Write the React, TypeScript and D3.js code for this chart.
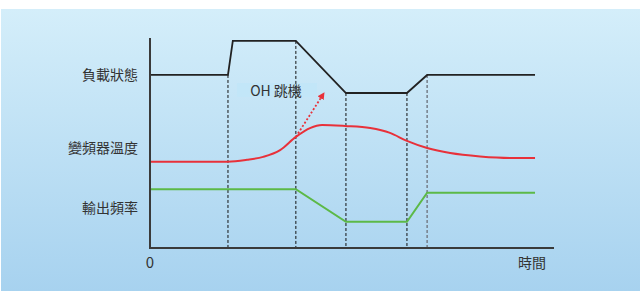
import React from "react";
import * as d3 from "d3";

const W = 640;
const H = 291;

// time domain 0..100, value domain 0..100
const blackT = [0, 19.3, 20.5, 36.1, 48.5, 63.6, 68.6, 95.3];
const blackV = [82.4, 82.4, 98.6, 98.6, 73.8, 73.8, 82.4, 82.4];

const redT = [0, 19.3, 24, 28, 32.2, 36.1, 39.6, 42.6, 48.3, 54.5, 59.4, 63.6, 68.6, 74.3, 81.7, 89.1, 95.3];
const redV = [41.1, 41.1, 42.0, 43.4, 46.6, 52.9, 57.1, 58.6, 58.1, 57.1, 54.8, 51.0, 47.6, 45.2, 43.6, 42.9, 42.9];

const greenT = [0, 36.1, 48.5, 63.6, 68.6, 95.3];
const greenV = [28, 28, 12.5, 12.5, 26.3, 26.3];

const eventT = [19.3, 36.1, 48.5, 63.6, 68.6];
const eventTop = [82.4, 98.6, 73.8, 73.8, 82.4];

const seriesLabels = ["負載狀態", "變頻器溫度", "輸出頻率"];
const seriesLabelV = [82.4, 47.8, 19];

const arrowFrom = [36.1, 52.9];
const arrowTo = [43.0, 73.6];
const noteText = "OH 跳機";
const axisLabels = ["0", "時間"];

export default function App() {
  const x = d3.scaleLinear().domain([0, 100]).range([150, 554]);
  const y = d3.scaleLinear().domain([0, 100]).range([248, 38]);

  const mk = (ts: number[], vs: number[]) => ts.map((t, i) => [t, vs[i]] as [number, number]);
  const straight = d3.line<[number, number]>().x((d) => x(d[0])).y((d) => y(d[1]));
  const smooth = d3
    .line<[number, number]>()
    .x((d) => x(d[0]))
    .y((d) => y(d[1]))
    .curve(d3.curveMonotoneX);

  const font = "'Noto Sans CJK TC', 'Noto Sans', sans-serif";
  const ax1 = x(arrowFrom[0]);
  const ay1 = y(arrowFrom[1]);
  const ax2 = x(arrowTo[0]);
  const ay2 = y(arrowTo[1]);

  return (
    <svg
      width={W}
      height={H}
      style={{ position: "fixed", left: 0, top: 0, display: "block" }}
    >
      <defs>
        <linearGradient id="bg" x1="0" y1="0" x2="0" y2="1">
          <stop offset="0%" stopColor="#d4eefa" />
          <stop offset="100%" stopColor="#a7d2ef" />
        </linearGradient>
        <marker id="ah" viewBox="0 0 10 10" refX="8" refY="5" markerWidth="4" markerHeight="4" orient="auto">
          <path d="M0,0 L10,5 L0,10 z" fill="#e8313a" />
        </marker>
      </defs>
      <rect x={0} y={0} width={W} height={H} fill="#ffffff" />
      <rect x={1} y={9} width={W - 1} height={H - 9} fill="url(#bg)" />

      {/* note box */}
      <rect x={237} y={83} width={80} height={14} fill="#c2e6f8" />
      <text x={276} y={95.5} textAnchor="middle" fontSize={14} fill="#333" fontFamily={font}>
        {noteText}
      </text>

      {/* event dashed lines */}
      {eventT.map((t, i) => (
        <line
          key={i}
          x1={x(t)}
          x2={x(t)}
          y1={y(eventTop[i])}
          y2={y(0)}
          stroke={i === eventT.length - 1 ? "#7a8590" : "#111"}
          strokeWidth={i === eventT.length - 1 ? 1.6 : 1}
          strokeDasharray="3,2"
        />
      ))}

      {/* series */}
      <path d={straight(mk(blackT, blackV)) || ""} fill="none" stroke="#222" strokeWidth={1.8} />
      <path d={smooth(mk(redT, redV)) || ""} fill="none" stroke="#e8313a" strokeWidth={2} />
      <path d={straight(mk(greenT, greenV)) || ""} fill="none" stroke="#5cb947" strokeWidth={2} />

      {/* arrow */}
      <line
        x1={ax1}
        y1={ay1}
        x2={ax2}
        y2={ay2}
        stroke="#e8313a"
        strokeWidth={1.8}
        strokeDasharray="2,2"
        markerEnd="url(#ah)"
      />

      {/* axes */}
      <line x1={x(0)} x2={x(0)} y1={y(100)} y2={y(0) + 1} stroke="#3a3a3a" strokeWidth={2} />
      <line x1={x(0)} x2={x(100)} y1={y(0)} y2={y(0)} stroke="#3a3a3a" strokeWidth={2} />

      {/* labels */}
      {seriesLabels.map((s, i) => (
        <text
          key={s}
          x={138}
          y={y(seriesLabelV[i]) + 5}
          textAnchor="end"
          fontSize={14}
          fill="#333"
          fontFamily={font}
        >
          {s}
        </text>
      ))}
      <text x={150} y={268} textAnchor="middle" fontSize={15} fill="#333" fontFamily={font}>
        {axisLabels[0]}
      </text>
      <text x={546} y={268} textAnchor="end" fontSize={14} fill="#333" fontFamily={font}>
        {axisLabels[1]}
      </text>
    </svg>
  );
}
